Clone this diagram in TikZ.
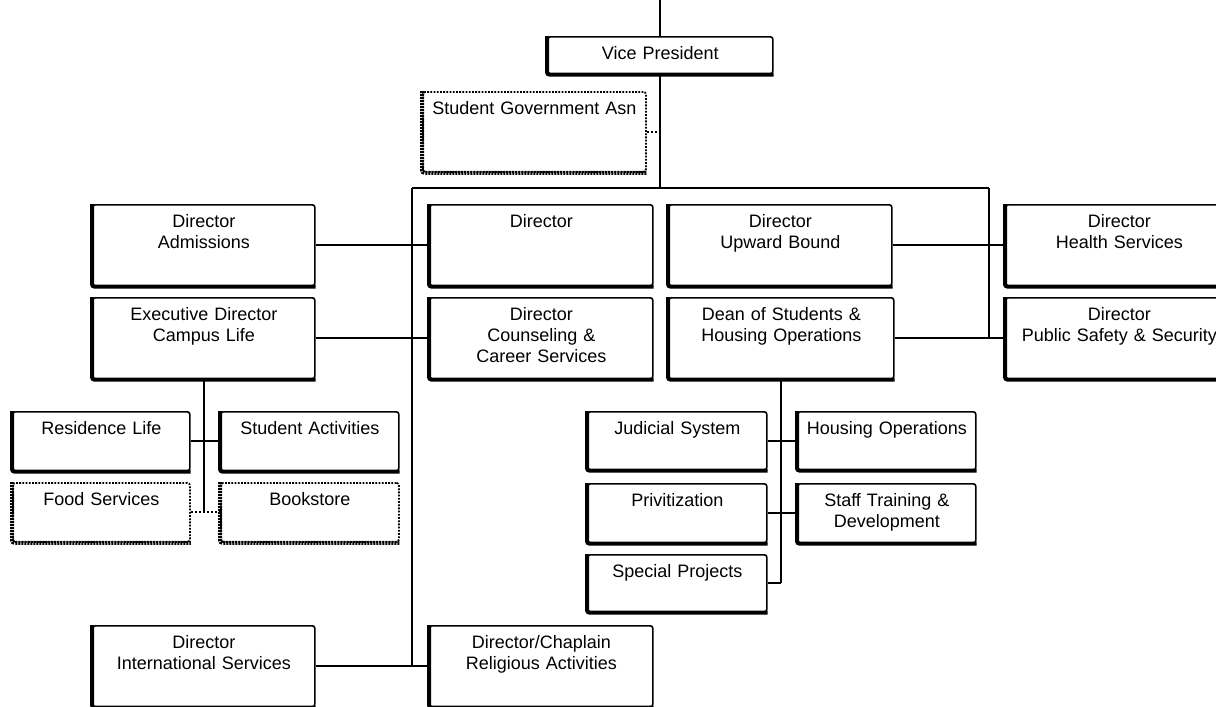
\documentclass[tikz,border=0pt]{standalone}
\usepackage{fontspec}
\setmainfont{Liberation Sans}
\newcommand\orgbox[7][obox]{%
  \pgfmathsetmacro\obw{#5-#3}%
  \pgfmathsetmacro\obd{#6-#4-23}%
  \node[#1, anchor=north west, text width=\obw pt, text depth=\obd pt] (#2) at (#3,#4) {#7};}
\begin{document}
\begin{tikzpicture}[x=1pt,y=-1pt,
  font=\fontsize{18}{21}\selectfont,
  obox/.style={draw, line width=1.6pt, rounded corners=2.5pt, inner sep=0pt, align=center, text height=23pt},
  dbox/.style={obox, line width=1.8pt, dash pattern=on 1.8pt off 1.4pt},
  thickL/.style={line width=4pt, rounded corners=2.5pt},
  dthickL/.style={thickL, dash pattern=on 2pt off 1pt},
  conn/.style={line width=2pt},
  dconn/.style={conn, dash pattern=on 2.5pt off 1.5pt}]
\useasboundingbox (0,0) rectangle (1216,707);

\orgbox{vp}{547}{36}{772}{73}{Vice President}
\orgbox[dbox]{sga}{422}{91}{645}{171}{Student Government Asn}
\orgbox{adm}{92}{204}{314}{285}{Director\\Admissions}
\orgbox{dir}{429}{204}{652}{285}{Director}
\orgbox{upb}{668}{204}{891}{285}{Director\\Upward Bound}
\orgbox{hlth}{1005}{204}{1232}{285}{Director\\Health Services}
\orgbox{ecl}{92}{297}{314}{378}{Executive Director\\Campus Life}
\orgbox{cou}{429}{297}{652}{378}{Director\\Counseling \&\\Career Services}
\orgbox{dean}{668}{297}{893}{378}{Dean of Students \&\\Housing Operations}
\orgbox{pss}{1005}{297}{1232}{378}{Director\\Public Safety \& Security}
\orgbox{res}{12}{411}{189}{470}{Residence Life}
\orgbox{sa}{220}{411}{398}{470}{Student Activities}
\orgbox[dbox]{food}{12}{482}{189}{541}{Food Services}
\orgbox[dbox]{book}{220}{482}{398}{541}{Bookstore}
\orgbox{jud}{587}{411}{766}{469}{Judicial System}
\orgbox{hops}{797}{411}{975}{469}{Housing Operations}
\orgbox{priv}{587}{483}{766}{542}{Privitization}
\orgbox{stf}{797}{483}{975}{542}{Staff Training \&\\Development}
\orgbox{spp}{587}{554}{766}{611}{Special Projects}
\orgbox{intl}{92}{625}{314}{706}{Director\\International Services}
\orgbox{rel}{429}{625}{652}{706}{Director/Chaplain\\Religious Activities}

\foreach \n in {vp,adm,dir,upb,hlth,ecl,cou,dean,pss,res,sa,jud,hops,priv,stf,spp,intl,rel}
  \draw[thickL] (\n.north west) -- (\n.south west) -- (\n.south east);
\foreach \n in {sga,food,book}
  \draw[dthickL] (\n.north west) -- (\n.south west) -- (\n.south east);

\coordinate (top) at (vp.north |- 0,0);
\coordinate (jl) at (412,188);
\coordinate (jr) at (989,188);
\coordinate (jc) at (vp.south |- jl);
\draw[conn] (top) -- (vp.north);
\draw[conn] (vp.south) -- (jc);
\draw[dconn] (sga.east) -- (sga.east -| jc);
\draw[conn] (jl) -- (jr);
\draw[conn] (jl) -- (jl |- intl.east);
\draw[conn] (jr) -- (jr |- pss.west);
\draw[conn] (adm.east) -- (dir.west);
\draw[conn] (ecl.east) -- (cou.west);
\draw[conn] (intl.east) -- (rel.west);
\draw[conn] (upb.east) -- (hlth.west);
\draw[conn] (dean.east) -- (pss.west);
\draw[conn] (ecl.south) -- (ecl.south |- food.east);
\draw[conn] (res.east) -- (sa.west);
\draw[dconn] (food.east) -- (book.west);
\draw[conn] (dean.south) -- (dean.south |- spp.east);
\draw[conn] (jud.east) -- (hops.west);
\draw[conn] (priv.east) -- (stf.west);
\draw[conn] (spp.east) -- (dean.south |- spp.east);
\end{tikzpicture}
\end{document}
